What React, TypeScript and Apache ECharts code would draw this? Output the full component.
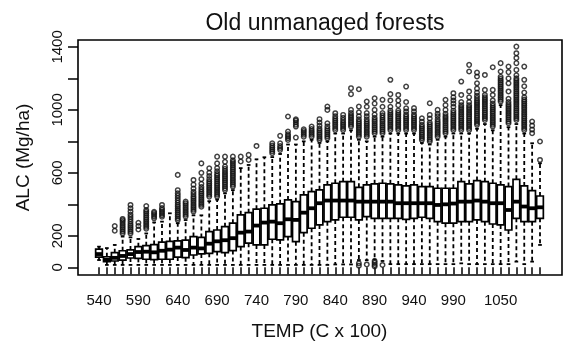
import React, { useEffect, useRef } from "react";
import * as echarts from "echarts";

const temps = [
  540, 550, 560, 570, 580, 590, 600, 610, 620, 630, 640, 650, 660, 670, 680, 690, 700, 710, 720,
  730, 740, 750, 760, 770, 780, 790, 800, 810, 820, 830, 840, 850, 860, 870, 880, 890, 900, 910,
  920, 930, 940, 950, 960, 970, 980, 990, 1000, 1010, 1020, 1030, 1040, 1050, 1060, 1070, 1080,
  1090, 1100,
];

const lowWhisker = [
  46, 15, 15, 15, 15, 15, 15, 15, 15, 15, 15, 15, 15, 15, 15, 15, 15, 15, 15,
  15, 15, 15, 15, 15, 15, 15, 15, 15, 15, 15, 18, 18, 18, 46, 45, 50, 40, 20,
  20, 20, 20, 20, 20, 20, 20, 20, 25, 20, 20, 20, 20, 20, 20, 36, 20,
  36, 142,
];
const q1 = [
  65, 36, 40, 46, 59, 57, 51, 49, 51, 51, 65, 61, 78, 85, 89, 100, 93, 106, 131,
  153, 142, 142, 178, 174, 195, 163, 220, 248, 269, 290, 301, 318, 318, 301, 322, 311, 311, 311,
  311, 305, 311, 318, 311, 290, 280, 280, 290, 290, 301, 290, 275, 269, 237, 311, 290,
  290, 311,
];
const median = [
  84, 48, 60, 72, 84, 97, 99, 95, 105, 112, 125, 110, 125, 120, 150, 165, 172, 185, 220,
  227, 265, 284, 290, 280, 305, 301, 347, 375, 407, 424, 424, 424, 424, 417, 417, 417, 417, 417,
  407, 407, 407, 407, 407, 396, 400, 405, 417, 417, 424, 417, 407, 407, 364, 417, 386,
  375, 381,
];
const q3 = [
  116, 67, 93, 105, 110, 131, 137, 144, 160, 165, 168, 172, 195, 190, 227, 237, 258, 280, 333,
  347, 369, 375, 396, 403, 428, 417, 460, 481, 492, 523, 534, 544, 544, 508, 523, 530, 534, 530,
  523, 517, 523, 513, 513, 502, 502, 502, 544, 530, 551, 544, 534, 523, 513, 559, 517,
  487, 453,
];
const highWhisker = [
  131, 122, 142, 195, 190, 180, 215, 285, 290, 343, 280, 300, 330, 330, 420, 430, 470, 490, 630,
  650, 686, 699, 700, 720, 780, 780, 800, 810, 790, 800, 850, 850, 870, 810, 800, 830, 830, 850,
  850, 850, 850, 790, 780, 810, 830, 850, 850, 850, 880, 910, 870, 1030, 890, 910, 850,
  788, 661,
];

const outliers: number[][] = [
  [],
  [],
  [232, 262],
  [215, 227, 239, 251, 263, 275, 287, 299, 307],
  [215, 227, 239, 251, 263, 275, 290, 305, 320, 335, 355, 375, 396],
  [240, 262, 283],
  [245, 257, 269, 281, 293, 305, 317, 329, 341, 353, 364, 389],
  [311, 322, 333, 344, 353],
  [321, 332, 343, 354, 365, 376, 396],
  [],
  [300, 312, 324, 336, 348, 360, 372, 384, 396, 410, 425, 440, 455, 470, 490, 587],
  [322, 334, 346, 358, 370, 382, 394, 406, 417],
  [354, 366, 378, 390, 402, 414, 426, 438, 450, 465, 480, 500, 525, 555],
  [385, 397, 409, 421, 433, 445, 457, 469, 481, 495, 510, 530, 560, 600, 660],
  [449, 461, 473, 485, 497, 509, 521, 533, 545, 560, 580, 600, 629],
  [449, 461, 473, 485, 497, 509, 521, 533, 545, 557, 569, 581, 593, 610, 630, 660, 703],
  [491, 503, 515, 527, 539, 551, 563, 575, 587, 599, 611, 625, 640, 670, 703],
  [513, 525, 537, 549, 561, 573, 585, 597, 609, 621, 633, 645, 657, 669, 680, 703],
  [672, 703],
  [682, 714],
  [771],
  [],
  [725, 737, 749, 761, 773, 788],
  [746, 758, 770, 788, 835],
  [809, 821, 833, 845, 862, 958],
  [824, 894, 906, 920, 932, 940],
  [830, 842, 854, 866, 877],
  [830, 842, 854, 866, 878, 894],
  [809, 821, 833, 845, 857, 869, 881, 900, 920, 941],
  [820, 832, 844, 856, 868, 880, 895, 915, 1000, 1021],
  [873, 885, 897, 909, 921, 933, 945, 960, 979],
  [873, 885, 897, 909, 921, 935, 950, 968],
  [894, 906, 918, 930, 942, 954, 966, 980, 1000, 1100, 1138],
  [830, 842, 854, 866, 878, 890, 902, 914, 926, 940, 960, 985, 1021, 1131, 10, 25],
  [830, 842, 854, 866, 878, 890, 902, 914, 926, 940, 960, 980, 1020, 1053, 18],
  [852, 864, 876, 888, 900, 912, 924, 936, 950, 970, 1000, 1040, 1074, 5, 15, 28, 40],
  [852, 864, 876, 888, 900, 912, 924, 936, 950, 965, 980, 1020, 1064, 15],
  [873, 885, 897, 909, 921, 933, 945, 957, 969, 981, 995, 1020, 1060, 1100, 1191],
  [873, 885, 897, 909, 921, 933, 945, 957, 969, 981, 995, 1030, 1060, 1095],
  [873, 885, 897, 909, 921, 933, 945, 957, 970, 990, 1010, 1050, 1148],
  [873, 885, 897, 909, 921, 933, 945, 957, 970, 990, 1011],
  [809, 821, 833, 845, 857, 869, 881, 893, 905, 925, 947],
  [799, 811, 823, 835, 847, 859, 871, 883, 895, 907, 920, 945, 968, 1042],
  [830, 842, 854, 866, 878, 890, 902, 914, 926, 940, 960, 975, 1000],
  [852, 864, 876, 888, 900, 912, 924, 936, 948, 960, 975, 1000, 1030, 1064],
  [873, 885, 897, 909, 921, 933, 945, 957, 969, 981, 995, 1020, 1040, 1060, 1080, 1106],
  [873, 885, 897, 909, 921, 933, 945, 957, 969, 981, 993, 1005, 1017, 1030, 1050, 1095, 1180],
  [873, 885, 897, 909, 921, 933, 945, 957, 969, 981, 993, 1005, 1017, 1030, 1050, 1080, 1117, 1244, 1286],
  [905, 917, 929, 941, 953, 965, 977, 989, 1001, 1013, 1025, 1037, 1049, 1061, 1075, 1090, 1110, 1135, 1169, 1212, 1237],
  [936, 948, 960, 972, 984, 996, 1008, 1020, 1032, 1044, 1056, 1068, 1080, 1095, 1127, 1222],
  [894, 906, 918, 930, 942, 954, 966, 978, 990, 1002, 1014, 1026, 1040, 1060, 1095, 1127, 1271],
  [1053, 1065, 1077, 1089, 1101, 1113, 1125, 1137, 1149, 1161, 1173, 1185, 1197, 1210, 1244, 1297],
  [915, 927, 939, 951, 963, 975, 987, 999, 1011, 1023, 1035, 1050, 1070, 1117, 1169, 1200, 1240, 1275],
  [936, 948, 960, 972, 984, 996, 1008, 1020, 1032, 1044, 1056, 1068, 1080, 1092, 1104, 1116, 1128, 1140, 1152, 1164, 1176, 1188, 1200, 1220, 1254, 1297, 1330, 1360, 1402],
  [873, 885, 897, 909, 921, 933, 945, 957, 969, 981, 993, 1005, 1017, 1029, 1041, 1053, 1065, 1080, 1110, 1150, 1191, 1275],
  [852, 875, 900, 926],
  [682, 799],
];

const yTicks = [0, 200, 400, 600, 800, 1000, 1200, 1400];
const yLabels = [0, 200, 600, 1000, 1400];
const xLabels = [540, 590, 640, 690, 740, 790, 840, 890, 940, 990, 1050];

const FONT = "'Liberation Sans', Arial, Helvetica, sans-serif";

export default function App() {
  const ref = useRef<HTMLDivElement>(null);
  useEffect(() => {
    document.body.style.margin = "0";
    const chart = echarts.init(ref.current!, null, { renderer: "svg" });
    const boxData = temps.map((_, i) => [i, lowWhisker[i], q1[i], median[i], q3[i], highWhisker[i]]);
    const outData: number[][] = [];
    outliers.forEach((arr, i) => arr.forEach((v) => outData.push([i, v])));

    const renderItem = (params: any, api: any) => {
      const idx = api.value(0);
      const lo = api.coord([idx, api.value(1)]);
      const b1 = api.coord([idx, api.value(2)]);
      const md = api.coord([idx, api.value(3)]);
      const b3 = api.coord([idx, api.value(4)]);
      const hi = api.coord([idx, api.value(5)]);
      const band = api.size([1, 0])[0];
      const bw = band * 0.85;
      const sw = bw * 0.55;
      const x = lo[0];
      const stroke = "#000";
      return {
        type: "group",
        children: [
          { type: "line", shape: { x1: x, y1: b3[1], x2: x, y2: hi[1] }, style: { stroke, lineWidth: 1.8, lineDash: [4, 3] } },
          { type: "line", shape: { x1: x, y1: b1[1], x2: x, y2: lo[1] }, style: { stroke, lineWidth: 1.8, lineDash: [4, 3] } },
          { type: "line", shape: { x1: x - sw / 2, y1: hi[1], x2: x + sw / 2, y2: hi[1] }, style: { stroke, lineWidth: 1.8 } },
          { type: "line", shape: { x1: x - sw / 2, y1: lo[1], x2: x + sw / 2, y2: lo[1] }, style: { stroke, lineWidth: 1.8 } },
          { type: "rect", shape: { x: x - bw / 2, y: b3[1], width: bw, height: b1[1] - b3[1] }, style: { fill: "#fff", stroke, lineWidth: 1.7 } },
          { type: "line", shape: { x1: x - bw / 2, y1: md[1], x2: x + bw / 2, y2: md[1] }, style: { stroke, lineWidth: 3.8 } },
        ],
      };
    };

    chart.setOption({
      animation: false,
      textStyle: { fontFamily: FONT },
      title: {
        text: "Old unmanaged forests",
        left: 320,
        top: 5,
        textAlign: "center",
        textStyle: { fontSize: 23, fontWeight: "normal", color: "#111", fontFamily: FONT },
      },
      grid: [
        { left: 78, right: 4, top: 40, bottom: 74, show: true, borderColor: "#000", borderWidth: 1.6, backgroundColor: "transparent" },
        { left: 95.06, right: 22.06, top: 40, bottom: 74 },
      ],
      xAxis: [
        { gridIndex: 0, type: "value", min: 0, max: 1, show: false },
        {
          gridIndex: 1,
          type: "category",
          data: temps.map(String),
          boundaryGap: true,
          offset: 2,
          axisLine: { show: false },
          axisTick: { show: true, interval: 0, alignWithLabel: true, length: 7, lineStyle: { color: "#000", width: 1.5 } },
          axisLabel: {
            interval: (idx: number, val: string) => xLabels.indexOf(Number(val)) >= 0,
            fontSize: 15,
            color: "#111",
            margin: 15,
            fontFamily: FONT,
          },
          splitLine: { show: false },
          name: "TEMP (C x 100)",
          nameLocation: "middle",
          nameGap: 44,
          nameTextStyle: { fontSize: 19, color: "#111", fontFamily: FONT },
        },
      ],
      yAxis: [
        {
          gridIndex: 0,
          type: "value",
          min: -49,
          max: 1444,
          splitLine: { show: false },
          axisLine: { show: false },
          axisTick: { show: true, length: 10, customValues: yTicks, lineStyle: { color: "#000", width: 1.5 } },
          axisLabel: {
            customValues: yLabels,
            rotate: 90,
            fontSize: 15,
            color: "#111",
            margin: 14,
            fontFamily: FONT,
            formatter: (v: number) => String(v),
          },
          name: "ALC (Mg/ha)",
          nameLocation: "middle",
          nameGap: 46,
          nameTextStyle: { fontSize: 19, color: "#111", fontFamily: FONT },
        },
        { gridIndex: 1, type: "value", min: -49, max: 1444, show: false },
      ],
      series: [
        {
          type: "custom",
          xAxisIndex: 1,
          yAxisIndex: 1,
          data: boxData,
          encode: { x: 0, y: [1, 2, 3, 4, 5] },
          renderItem,
          clip: false,
        },
        {
          type: "scatter",
          xAxisIndex: 1,
          yAxisIndex: 1,
          data: outData,
          symbol: "circle",
          symbolSize: 4.5,
          itemStyle: { color: "transparent", borderColor: "#111", borderWidth: 1.5 },
        },
      ],
    });
    return () => chart.dispose();
  }, []);
  return <div ref={ref} style={{ position: "fixed", left: 0, top: 0, width: 566, height: 349 }} />;
}
